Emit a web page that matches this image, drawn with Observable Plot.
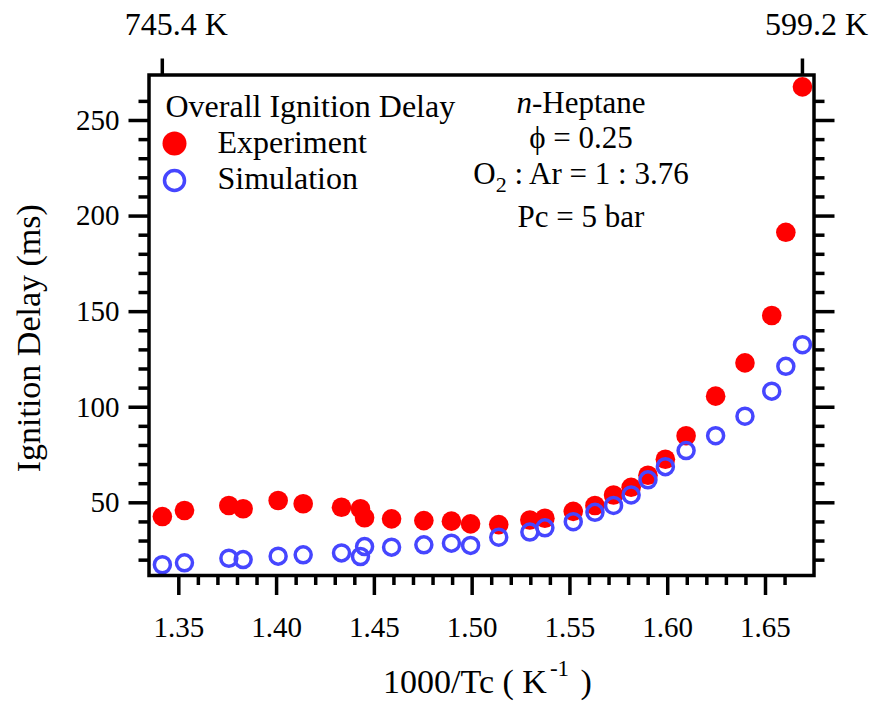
<!DOCTYPE html>
<html>
<head>
<meta charset="utf-8">
<script src="https://cdn.jsdelivr.net/npm/d3@7"></script>
<script src="https://cdn.jsdelivr.net/npm/@observablehq/plot@0.6"></script>
<style>
  html, body { margin: 0; padding: 0; background: #fff; }
</style>
</head>
<body>
<div id="chart"></div>
<script>
// ---- data ----
const invTc = [1.3416, 1.3529, 1.3756, 1.3829, 1.4008, 1.4136, 1.4332, 1.4429, 1.4450, 1.4588,
               1.4753, 1.4894, 1.4992, 1.5136, 1.5295, 1.5372, 1.5517, 1.5628, 1.5723, 1.5813,
               1.5899, 1.5988, 1.6094, 1.6245, 1.6395, 1.6532, 1.6604, 1.6689];
const experiment = [42.8, 46.0, 48.6, 46.9, 51.2, 49.5, 47.7, 46.9, 42.2, 41.6,
                    40.7, 40.4, 39.0, 38.6, 41.0, 41.9, 45.5, 48.6, 54.1, 58.1,
                    64.4, 72.8, 85.1, 105.8, 123.2, 148.0, 191.5, 267.6];
const simulation = [17.6, 18.6, 21.0, 20.3, 22.1, 22.8, 23.8, 21.9, 27.1, 26.8,
                    28.0, 28.9, 27.7, 32.0, 34.7, 36.9, 40.1, 45.0, 48.6, 54.1,
                    62.0, 68.9, 77.3, 85.1, 95.3, 108.4, 121.4, 132.7];

const xMajorTicks = [1.35, 1.40, 1.45, 1.50, 1.55, 1.60, 1.65];
const xMinorTicks = [1.36, 1.37, 1.38, 1.39, 1.41, 1.42, 1.43, 1.44, 1.46, 1.47, 1.48, 1.49,
                     1.51, 1.52, 1.53, 1.54, 1.56, 1.57, 1.58, 1.59, 1.61, 1.62, 1.63, 1.64, 1.66];
const yMajorTicks = [50, 100, 150, 200, 250];
const yMinorTicks = [20, 30, 40, 60, 70, 80, 90, 110, 120, 130, 140, 160, 170, 180, 190,
                     210, 220, 230, 240, 260];
const topTickTemps = [745.4, 599.2];

const legendTitle = "Overall Ignition Delay";
const seriesNames = ["Experiment", "Simulation"];
const conditions = ["n-Heptane", "ϕ = 0.25", "O2 : Ar = 1 : 3.76", "Pc = 5 bar"];
const xTitle = "1000/Tc ( K-1 )";
const yTitle = "Ignition Delay (ms)";

// ---- table for Plot ----
const data = invTc.map((x, i) => ({x, exp: experiment[i], sim: simulation[i]}));

const W = 873, H = 702, ML = 148.5, MR = 59.5, MT = 74.5, MB = 127;
const red = "#ff0000", blue = "#4646ff";
const SW = 3.5;
const condDy = [37.5, 72.5, 108.5, 151.5];

const plot = Plot.plot({
  width: W, height: H,
  marginLeft: ML, marginRight: MR, marginTop: MT, marginBottom: MB,
  style: {fontFamily: "'Liberation Serif', 'Times New Roman', serif", fontSize: "29px", background: "white", color: "black"},
  x: {domain: [1.33476, 1.6748]},
  y: {domain: [11.97, 273.8]},
  marks: [
    Plot.axisX({ticks: xMajorTicks, tickFormat: d => d.toFixed(2), tickSize: 20, tickPadding: 21, strokeWidth: SW, fontSize: 29, label: null}),
    Plot.axisX({ticks: xMinorTicks, tickFormat: () => "", tickSize: 10, strokeWidth: SW, label: null}),
    Plot.axisX({anchor: "top", ticks: topTickTemps.map(t => 1000 / t), tickFormat: () => "", tickSize: 17, strokeWidth: SW, label: null}),
    Plot.text(topTickTemps, {x: t => 1000 / t, frameAnchor: "top", text: t => `${t.toFixed(1)} K`, dx: 14, dy: -40, lineAnchor: "bottom", fontSize: 32}),
    Plot.axisY({ticks: yMajorTicks, tickSize: 20, tickPadding: 9.5, strokeWidth: SW, fontSize: 29, label: null}),
    Plot.axisY({ticks: yMinorTicks, tickSize: 10, tickFormat: () => "", strokeWidth: SW, label: null}),
    Plot.axisY({anchor: "right", ticks: yMajorTicks, tickSize: 20, tickFormat: () => "", strokeWidth: SW, label: null}),
    Plot.axisY({anchor: "right", ticks: yMinorTicks, tickSize: 10, tickFormat: () => "", strokeWidth: SW, label: null}),
    Plot.dot(data, {x: "x", y: "exp", r: 9.8, fill: red, stroke: "none"}),
    Plot.dot(data, {x: "x", y: "sim", r: 8, stroke: blue, strokeWidth: 3.5, fill: "none"}),
    Plot.frame({stroke: "black", strokeWidth: SW}),
    // legend
    Plot.text([legendTitle], {frameAnchor: "top-left", text: d => d, dx: 16.5, dy: 41.5, textAnchor: "start", lineAnchor: "bottom", fontSize: 32}),
    Plot.dot([0], {frameAnchor: "top-left", dx: 25.5, dy: 68.5, r: 12, fill: red, stroke: "none"}),
    Plot.dot([0], {frameAnchor: "top-left", dx: 25.5, dy: 105.5, r: 10, fill: "none", stroke: blue, strokeWidth: 3.5}),
    Plot.text([seriesNames[0]], {frameAnchor: "top-left", text: d => d, dx: 68.5, dy: 77.5, textAnchor: "start", lineAnchor: "bottom", fontSize: 32}),
    Plot.text([seriesNames[1]], {frameAnchor: "top-left", text: d => d, dx: 68.5, dy: 113.5, textAnchor: "start", lineAnchor: "bottom", fontSize: 32}),
    // conditions
    ...conditions.map((c, i) => Plot.text([c], {frameAnchor: "top-left", text: d => d, dx: 432, dy: condDy[i], textAnchor: "middle", lineAnchor: "bottom", fontSize: 31})),
    // axis titles
    Plot.text([yTitle], {frameAnchor: "left", text: d => d, rotate: -90, dx: -109.5, dy: 13, textAnchor: "middle", lineAnchor: "bottom", fontSize: 34}),
    Plot.text([xTitle], {frameAnchor: "bottom", text: d => d, dx: 6, dy: 117, textAnchor: "middle", lineAnchor: "bottom", fontSize: 34})
  ]
});

document.getElementById("chart").appendChild(plot);

// rich text: superscript, subscript, italic
d3.select(plot).selectAll("text").each(function () {
  const t = this.textContent;
  const el = d3.select(this);
  if (t === xTitle) {
    el.text(null);
    el.append("tspan").text("1000/Tc ( K");
    el.append("tspan").attr("dx", "3").attr("dy", "-17").attr("font-size", "23").text("-1");
    el.append("tspan").attr("dx", "3").attr("dy", "17").text(" )");
  } else if (t === conditions[2]) {
    el.text(null);
    el.append("tspan").text("O");
    el.append("tspan").attr("dy", "8").attr("font-size", "22").text("2");
    el.append("tspan").attr("dy", "-8").text(" : Ar = 1 : 3.76");
  } else if (t === conditions[0]) {
    el.text(null);
    el.append("tspan").attr("font-style", "italic").text("n");
    el.append("tspan").text("-Heptane");
  }
});
</script>
</body>
</html>
